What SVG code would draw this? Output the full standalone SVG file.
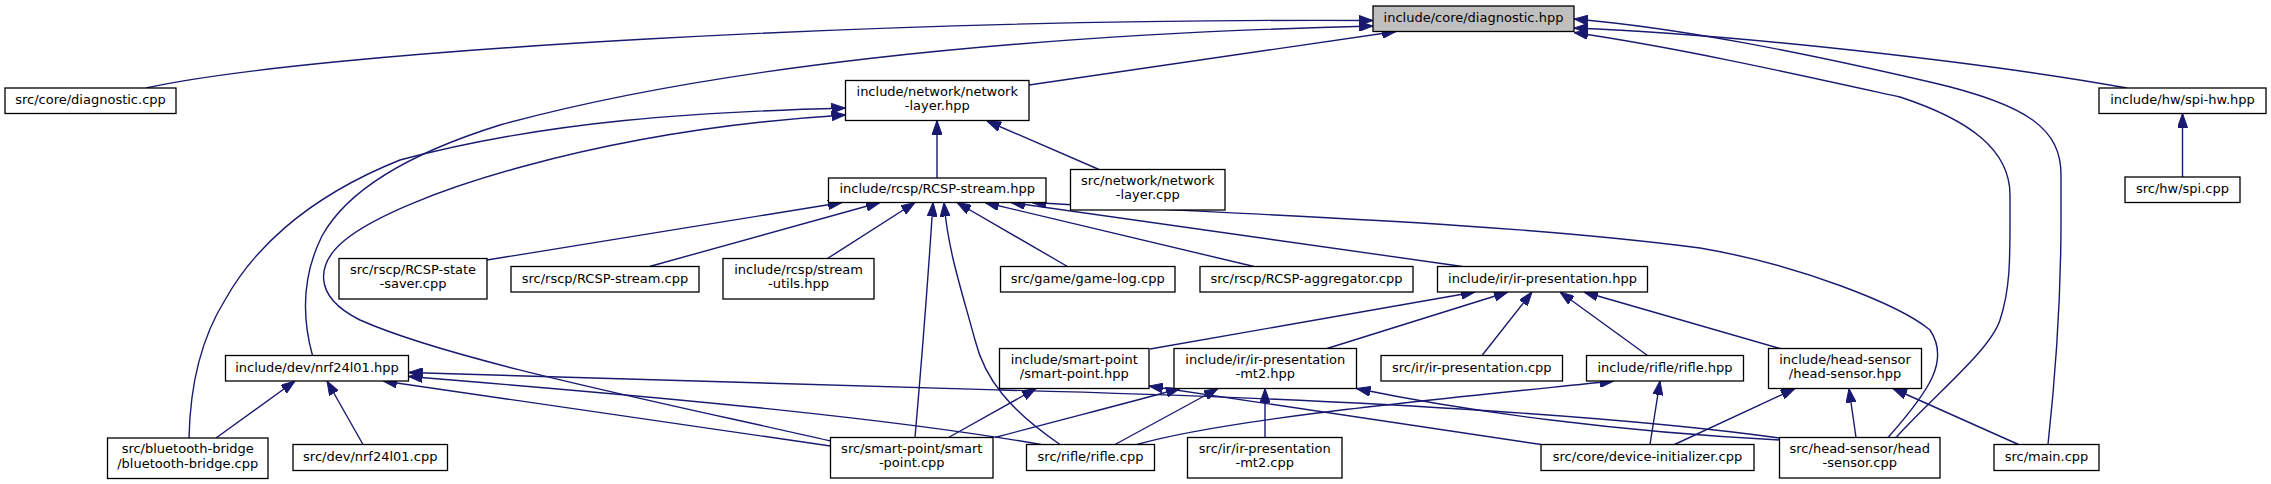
<svg xmlns="http://www.w3.org/2000/svg" width="2271" height="484" viewBox="0 0 2271 484">
<style>
.node rect{fill:#ffffff;stroke:#000000;stroke-width:1.3}
.node rect.hl{fill:#bfbfbf}
.node text{font-family:"DejaVu Sans",sans-serif;font-size:13px;text-anchor:middle;fill:#000000}
.edges path{fill:none;stroke:#191970;stroke-width:1.4;marker-end:url(#ah)}
</style>
<defs>
<marker id="ah" markerUnits="userSpaceOnUse" markerWidth="14" markerHeight="10" refX="14" refY="5" orient="auto" viewBox="0 0 14 10">
<path d="M0,0 L14,5 L0,10 z" fill="#191970" stroke="#191970" stroke-width="1"/>
</marker>
</defs>
<rect width="2271" height="484" fill="#ffffff"/>
<g id="edges" class="edges">
<path d="M146,88 C 320,50 900,18 1373,20.5"/>
<path d="M312.5,355.5 C 300,310 305,270 322,236 C 350,185 420,150 500,125 C 700,70 1000,35 1373,26"/>
<path d="M189,438 C 190,390 200,340 225,300 C 250,255 300,200 400,160 C 550,120 700,112 845.5,108"/>
<path d="M830.5,441 C 650,400 450,360 360,320 C 310,295 318,262 345,240 C 400,195 600,130 845.5,115"/>
<path d="M1029,85 L1396,31.5"/>
<path d="M937,178 L937,120.5"/>
<path d="M1099,169.5 L987,121"/>
<path d="M2127,88 C 2000,65 1750,35 1574,28"/>
<path d="M2048,444.5 C 2055,380 2061,300 2061,220 L2061,175 C 2061,130 2030,105 1930,82 C 1800,52 1680,28 1574,19"/>
<path d="M1896,437.5 C 1940,390 1990,350 2000,320 C 2010,290 2010,260 2010,220 L2010,195 C 2010,150 1970,120 1900,97 C 1800,75 1680,48 1574,32.5"/>
<path d="M1888,437.5 C 1930,390 1950,360 1930,330 C 1900,305 1800,265 1700,248 C 1500,222 1250,215 1032,202.5"/>
<path d="M487,260 L842,202.5"/>
<path d="M649.5,266.5 L880,202.5"/>
<path d="M827.5,258.5 L915,202.5"/>
<path d="M915,437.5 C 920,380 928,280 933,202.5"/>
<path d="M1060,444.5 C 1010,410 985,380 975,340 C 960,285 948,250 944,202.5"/>
<path d="M1067.5,266.5 L957,202.5"/>
<path d="M1254,266.5 L985,202.5"/>
<path d="M1462.5,266.5 L1011,202.5"/>
<path d="M1150,349 L1475,292"/>
<path d="M1327,348.5 L1508,292"/>
<path d="M1482,355.5 L1532,292"/>
<path d="M1647.5,355.5 L1560,292"/>
<path d="M1780,348.5 L1584,292"/>
<path d="M948.5,437.5 L1036,388.5"/>
<path d="M1541,444.5 C 1450,430 1300,408 1149,386"/>
<path d="M995,437.5 C 1060,420 1120,405 1180,388.5"/>
<path d="M1115,444.5 L1218,388.5"/>
<path d="M1265,437.5 L1265,388.5"/>
<path d="M1779.5,440 C 1620,432 1470,412 1356.5,388.5"/>
<path d="M1137,444.5 C 1230,418 1450,398 1614,381"/>
<path d="M1650,444.5 L1660,381"/>
<path d="M1674.5,444.5 L1795,388.5"/>
<path d="M1856,437.5 L1849,388.5"/>
<path d="M2018.5,444.5 L1893,388.5"/>
<path d="M216,438 L295,381"/>
<path d="M363,444.5 L327,381"/>
<path d="M830.5,446 L383,381"/>
<path d="M1041,444.5 C 900,420 700,400 408.5,376.5"/>
<path d="M1779.5,438 C 1650,420 1400,400 1000,390 C 800,385 600,378 408.5,372.5"/>
<path d="M2182.5,177 L2182.5,113.5"/>
</g>
<g id="n_diag_hpp" class="node"><rect class="hl" x="1373" y="6" width="201" height="25.5"/><text x="1473.5" y="22">include/core/diagnostic.hpp</text></g>
<g id="n_diag_cpp" class="node"><rect x="5" y="88" width="171" height="25.5"/><text x="90.5" y="104">src/core/diagnostic.cpp</text></g>
<g id="n_netlayer_hpp" class="node"><rect x="845.5" y="80.5" width="183.5" height="40"/><text x="937.25" y="95.7">include/network/network</text><text x="937.25" y="110.2">-layer.hpp</text></g>
<g id="n_rcsp_hpp" class="node"><rect x="828.5" y="178" width="217.5" height="24.5"/><text x="937.25" y="193">include/rcsp/RCSP-stream.hpp</text></g>
<g id="n_netlayer_cpp" class="node"><rect x="1070.5" y="169.5" width="154.5" height="40.5"/><text x="1147.75" y="184.7">src/network/network</text><text x="1147.75" y="199.2">-layer.cpp</text></g>
<g id="n_spihw" class="node"><rect x="2099" y="88" width="167" height="25.5"/><text x="2182.5" y="104">include/hw/spi-hw.hpp</text></g>
<g id="n_spi_cpp" class="node"><rect x="2125" y="177" width="115" height="25.5"/><text x="2182.5" y="193">src/hw/spi.cpp</text></g>
<g id="n_state_saver" class="node"><rect x="339" y="258.5" width="148" height="40.5"/><text x="413" y="273.7">src/rscp/RCSP-state</text><text x="413" y="288.2">-saver.cpp</text></g>
<g id="n_rcsp_cpp" class="node"><rect x="511" y="266.5" width="188" height="25.5"/><text x="605" y="282.5">src/rscp/RCSP-stream.cpp</text></g>
<g id="n_stream_utils" class="node"><rect x="723" y="258.5" width="151" height="40.5"/><text x="798.5" y="273.7">include/rcsp/stream</text><text x="798.5" y="288.2">-utils.hpp</text></g>
<g id="n_gamelog" class="node"><rect x="1000.5" y="266.5" width="174.5" height="25.5"/><text x="1087.75" y="282.5">src/game/game-log.cpp</text></g>
<g id="n_aggregator" class="node"><rect x="1200" y="266.5" width="213" height="25.5"/><text x="1306.5" y="282.5">src/rscp/RCSP-aggregator.cpp</text></g>
<g id="n_irpres_hpp" class="node"><rect x="1437.5" y="266.5" width="210" height="25.5"/><text x="1542.5" y="282.5">include/ir/ir-presentation.hpp</text></g>
<g id="n_nrf_hpp" class="node"><rect x="225.5" y="355.5" width="183" height="25.5"/><text x="317" y="371.5">include/dev/nrf24l01.hpp</text></g>
<g id="n_smartpoint_hpp" class="node"><rect x="999.5" y="348.5" width="149.5" height="40"/><text x="1074.25" y="363.7">include/smart-point</text><text x="1074.25" y="378.2">/smart-point.hpp</text></g>
<g id="n_mt2_hpp" class="node"><rect x="1174" y="348.5" width="182.5" height="40"/><text x="1265.25" y="363.7">include/ir/ir-presentation</text><text x="1265.25" y="378.2">-mt2.hpp</text></g>
<g id="n_irpres_cpp" class="node"><rect x="1381" y="355.5" width="181.5" height="25.5"/><text x="1471.75" y="371.5">src/ir/ir-presentation.cpp</text></g>
<g id="n_rifle_hpp" class="node"><rect x="1586.5" y="355.5" width="157" height="25.5"/><text x="1665" y="371.5">include/rifle/rifle.hpp</text></g>
<g id="n_headsensor_hpp" class="node"><rect x="1768.5" y="348.5" width="153" height="40"/><text x="1845" y="363.7">include/head-sensor</text><text x="1845" y="378.2">/head-sensor.hpp</text></g>
<g id="n_bt" class="node"><rect x="107.5" y="438" width="160.5" height="40.5"/><text x="187.75" y="453.2">src/bluetooth-bridge</text><text x="187.75" y="467.7">/bluetooth-bridge.cpp</text></g>
<g id="n_nrf_cpp" class="node"><rect x="293" y="444.5" width="154.5" height="26"/><text x="370.25" y="460.7">src/dev/nrf24l01.cpp</text></g>
<g id="n_sp_cpp" class="node"><rect x="830.5" y="437.5" width="162.5" height="40.5"/><text x="911.75" y="452.7">src/smart-point/smart</text><text x="911.75" y="467.2">-point.cpp</text></g>
<g id="n_rifle_cpp" class="node"><rect x="1026.5" y="444.5" width="128" height="26"/><text x="1090.5" y="460.7">src/rifle/rifle.cpp</text></g>
<g id="n_mt2_cpp" class="node"><rect x="1187.5" y="437.5" width="154.5" height="40.5"/><text x="1264.75" y="452.7">src/ir/ir-presentation</text><text x="1264.75" y="467.2">-mt2.cpp</text></g>
<g id="n_devinit" class="node"><rect x="1541" y="444.5" width="213" height="26"/><text x="1647.5" y="460.7">src/core/device-initializer.cpp</text></g>
<g id="n_hs_cpp" class="node"><rect x="1779.5" y="437.5" width="160.5" height="40.5"/><text x="1859.75" y="452.7">src/head-sensor/head</text><text x="1859.75" y="467.2">-sensor.cpp</text></g>
<g id="n_main" class="node"><rect x="1994" y="444.5" width="105" height="26"/><text x="2046.5" y="460.7">src/main.cpp</text></g>
</svg>
